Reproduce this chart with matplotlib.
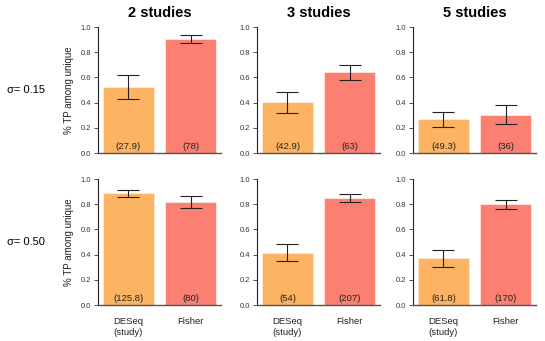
import matplotlib.pyplot as plt

plt.rcParams['font.family'] = ['Liberation Sans', 'DejaVu Sans']

methods = ["DESeq\n(study)", "Fisher"]
studies = ["2 studies", "3 studies", "5 studies"]
sigmas = ["\u03c3= 0.15", "\u03c3= 0.50"]

# fraction of TP among unique calls, [row][col] -> [DESeq, Fisher]
tp_mean = [
    [[0.523, 0.904], [0.403, 0.639], [0.271, 0.302]],
    [[0.886, 0.817], [0.416, 0.849], [0.371, 0.798]],
]
tp_low = [
    [[0.432, 0.875], [0.321, 0.581], [0.210, 0.228]],
    [[0.857, 0.769], [0.347, 0.820], [0.305, 0.761]],
]
tp_high = [
    [[0.618, 0.939], [0.485, 0.700], [0.329, 0.382]],
    [[0.915, 0.867], [0.485, 0.878], [0.438, 0.830]],
]
n_unique = [
    [["27.9", "78"], ["42.9", "63"], ["49.3", "36"]],
    [["125.8", "80"], ["54", "207"], ["61.8", "170"]],
]

colors = ["#FDB462", "#FB8072"]

fig = plt.figure(figsize=(5.45, 3.41), dpi=100)
W, H = 545, 341
col_left = [98, 257, 413]
row_top = [27, 179]
ax_w, ax_h = 123, 126

for r in range(2):
    for c in range(3):
        ax = fig.add_axes([col_left[c] / W, 1 - (row_top[r] + ax_h) / H, ax_w / W, ax_h / H])
        xs = [0, 1]
        ax.bar(xs, tp_mean[r][c], width=0.82, color=colors, edgecolor="#ffe9dc", linewidth=0.6, zorder=2)
        for i in xs:
            m = tp_mean[r][c][i]
            ax.errorbar(i, m, yerr=[[m - tp_low[r][c][i]], [tp_high[r][c][i] - m]],
                        fmt="none", ecolor="#222222", elinewidth=0.8, capsize=8, capthick=0.8, zorder=3)
            ax.text(i, 0.055, "(" + n_unique[r][c][i] + ")", ha="center", va="center", fontsize=6.8, color="#222222", zorder=4)
        ax.set_xlim(-0.49, 1.49)
        ax.set_ylim(0, 1.0)
        ax.set_yticks([0, 0.2, 0.4, 0.6, 0.8, 1.0])
        ax.set_yticklabels(["0.0", "0.2", "0.4", "0.6", "0.8", "1.0"])
        ax.tick_params(axis="y", labelsize=5.4, length=3, width=0.6, pad=2, colors="#333333")
        ax.spines["top"].set_visible(False)
        ax.spines["right"].set_visible(False)
        ax.spines["left"].set_bounds(0, 1)
        ax.spines["left"].set_linewidth(0.8)
        ax.spines["left"].set_color("#222222")
        ax.spines["bottom"].set_color("#555555")
        ax.spines["bottom"].set_linewidth(1.0)
        ax.set_xticks(xs)
        if r == 1:
            ax.set_xticklabels(methods, fontsize=6.8, color="#222222")
            ax.tick_params(axis="x", length=0, pad=9)
        else:
            ax.set_xticklabels([])
            ax.tick_params(axis="x", length=0)
        if c == 0:
            ax.set_ylabel("% TP among unique", fontsize=7, labelpad=5, color="#222222")
            fig.text(7 / W, 1 - (row_top[r] + 63) / H, sigmas[r], fontsize=8, ha="left", va="center")
        if r == 0:
            ax.set_title(studies[c], fontsize=10.5, fontweight="bold", pad=7)

fig.savefig("out.png", dpi=100)
